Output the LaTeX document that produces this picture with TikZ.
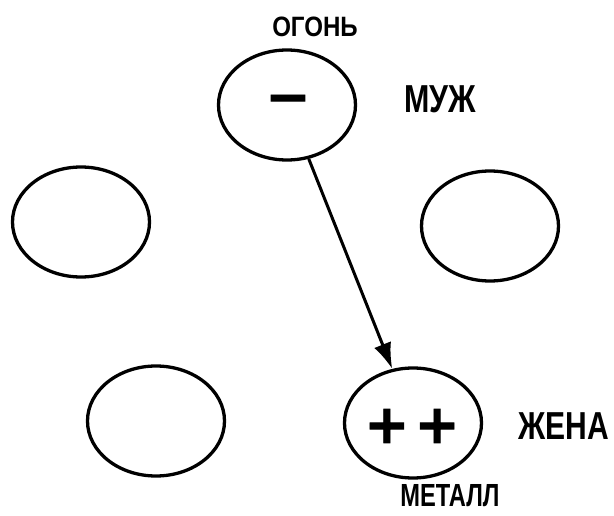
\documentclass[tikz,border=0pt]{standalone}
\usepackage{fontspec}
\usepackage{graphicx}
\setmainfont{Liberation Sans}
\newfontfamily\signfont[FakeBold=1.5]{DejaVu Sans Bold}
\usetikzlibrary{shapes.geometric,arrows.meta}
\newcommand{\hlab}[3]{\scalebox{#2}[1]{\fontsize{#1}{#1}\selectfont\bfseries #3}}
\tikzset{
  elem/.style={draw=black, line width=3.3pt, ellipse, minimum width=137pt, minimum height=110pt, inner sep=0pt},
  sign/.style={font=\signfont\fontsize{54}{54}\selectfont, inner sep=0pt},
  lab/.style={inner sep=0pt, anchor=center},
  link/.style={line width=3pt, -{Latex[length=26pt,width=18pt]}}
}
\begin{document}
\begin{tikzpicture}[x=1pt,y=-1pt]
\useasboundingbox (0,0) rectangle (614,516);
\node[elem] (fire) at (287,105) {};
\node[elem] (left) at (81,222) {};
\node[elem] (right) at (490,226) {};
\node[elem] (bl) at (156,421) {};
\node[elem] (metal) at (413,423) {};
\node[sign] (minus) at (288,105) {−};
\node[sign] (plus) at (412,426) {+\kern5pt+};
\node[lab] (ogon) at (315,27) {\hlab{28}{0.86}{ОГОНЬ}};
\node[lab] (muzh) at (440,99) {\hlab{39}{0.78}{МУЖ}};
\node[lab] (zhena) at (564,426) {\hlab{39}{0.77}{ЖЕНА}};
\node[lab] (metl) at (450,496) {\hlab{32}{0.74}{МЕТАЛЛ}};
\draw[link] (fire.-68) -- (metal.111);
\end{tikzpicture}
\end{document}
